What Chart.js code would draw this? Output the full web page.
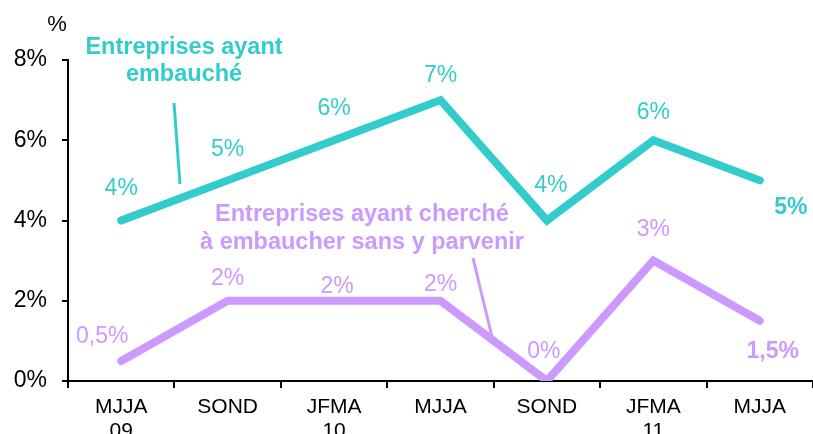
<!DOCTYPE html>
<html><head><meta charset="utf-8">
<script src="https://cdn.jsdelivr.net/npm/chart.js@4/dist/chart.umd.min.js"></script>
<style>html,body{margin:0;padding:0;background:#fff;}#wrap{width:813px;height:434px;position:relative;}</style>
</head><body><div id="wrap"><canvas id="c" width="813" height="434"></canvas></div>
<script>
const categories = [["MJJA","09"],["SOND"],["JFMA","10"],["MJJA"],["SOND"],["JFMA","11"],["MJJA"]];
const embauche = [4, 5, 6, 7, 4, 6, 5];
const sansParvenir = [0.5, 2, 2, 2, 0, 3, 1.5];
const embaucheLabels = ["4%","5%","6%","7%","4%","6%","5%"];
const sansLabels = ["0,5%","2%","2%","2%","0%","3%","1,5%"];
const yTicks = [0, 2, 4, 6, 8];

const TEAL = '#33CCCC', PURPLE = '#CC99FF';
const FONT = 'Arial, "Liberation Sans", sans-serif';

const labelCfg = [
  {ds:0, labels: embaucheLabels, color: TEAL,
   offsets: [[0,-32],[0,-31],[0,-32],[0,-24],[4,-35],[0,-28],[31,27]], bold:[false,false,false,false,false,false,true]},
  {ds:1, labels: sansLabels, color: PURPLE,
   offsets: [[-19,-24],[0,-22],[3,-14],[0,-16],[-3,-29],[0,-31],[13,31]], bold:[false,false,false,false,false,false,true]}
];

const overlay = {
  id: 'overlay',
  afterDatasetsDraw(chart) {
    const ctx = chart.ctx;
    ctx.save();
    ctx.textAlign = 'center';
    ctx.textBaseline = 'middle';
    labelCfg.forEach(cfg => {
      const meta = chart.getDatasetMeta(cfg.ds);
      meta.data.forEach((pt, i) => {
        ctx.font = (cfg.bold[i] ? 'bold ' : '') + '23px ' + FONT;
        ctx.fillStyle = cfg.color;
        ctx.fillText(cfg.labels[i], pt.x + cfg.offsets[i][0], pt.y + cfg.offsets[i][1]);
      });
    });
    // series annotations
    ctx.font = 'bold 23.5px ' + FONT;
    ctx.fillStyle = TEAL;
    ctx.fillText('Entreprises ayant', 184, 48);
    ctx.fillText('embauché', 184, 75);
    ctx.strokeStyle = TEAL; ctx.lineWidth = 3;
    ctx.beginPath(); ctx.moveTo(174, 103); ctx.lineTo(180, 184); ctx.stroke();
    ctx.fillStyle = PURPLE;
    ctx.fillText('Entreprises ayant cherché', 362, 215);
    ctx.fillText('à embaucher sans y parvenir', 362, 243);
    ctx.strokeStyle = PURPLE;
    ctx.beginPath(); ctx.moveTo(473, 258); ctx.lineTo(492, 337); ctx.stroke();
    // axis unit
    ctx.font = '22px ' + FONT;
    ctx.fillStyle = '#000';
    ctx.fillText('%', 57, 25);
    ctx.restore();
  }
};

new Chart(document.getElementById('c'), {
  type: 'line',
  data: {
    labels: categories,
    datasets: [
      {data: embauche, borderColor: TEAL, borderWidth: 8, pointRadius: 0, borderCapStyle: 'round', borderJoinStyle: 'miter', tension: 0, fill: false},
      {data: sansParvenir, borderColor: PURPLE, borderWidth: 8, pointRadius: 0, borderCapStyle: 'round', borderJoinStyle: 'miter', tension: 0, fill: false}
    ]
  },
  options: {
    responsive: false,
    animation: false,
    devicePixelRatio: 1,
    layout: {padding: {top: 60, left: 0, right: 0, bottom: 0}},
    plugins: {legend: {display: false}, tooltip: {enabled: false}},
    scales: {
      x: {
        offset: true,
        grid: {offset: true, drawOnChartArea: false, drawTicks: true, tickLength: 7, color: '#000', lineWidth: 2},
        border: {color: '#000', width: 2},
        ticks: {color: '#000', font: {family: FONT, size: 21, lineHeight: 1.15}, padding: 7, maxRotation: 0, autoSkip: false},
        afterFit(s) { s.height = 53; }
      },
      y: {
        min: 0, max: 8,
        afterBuildTicks(s) { s.ticks = yTicks.map(v => ({value: v})); },
        grid: {drawOnChartArea: false, drawTicks: true, tickLength: 6, color: '#000', lineWidth: 2},
        border: {color: '#000', width: 2},
        ticks: {color: '#000', font: {family: FONT, size: 23}, padding: 15, callback: v => v + '%'},
        afterFit(s) { s.width = 68; }
      }
    }
  },
  plugins: [overlay]
});
</script></body></html>
